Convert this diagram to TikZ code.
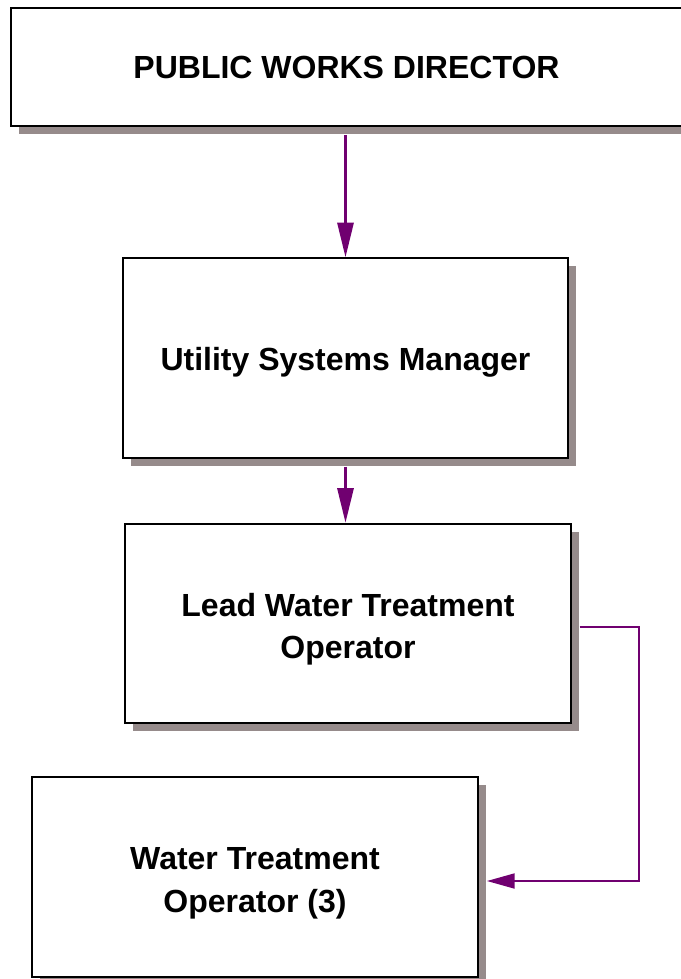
\documentclass[tikz,border=0pt]{standalone}
\usepackage{fontspec}
\setmainfont{Liberation Sans}
\usetikzlibrary{arrows.meta,shadows}
\definecolor{linkpurple}{RGB}{112,0,112}
\definecolor{shadowgray}{RGB}{150,139,139}
\tikzset{
  orgbox/.style={draw=black, line width=1.5pt, fill=white, align=center,
    font=\bfseries\fontsize{24pt}{32pt}\selectfont,
    minimum width=334pt, minimum height=149.5pt, inner sep=0pt,
    text height=58pt,
    drop shadow={shadow xshift=6pt, shadow yshift=-6pt, fill=shadowgray, opacity=1}},
  conn/.style={draw=linkpurple, line width=2.2pt, shorten <=6pt,
    -{Triangle[length=26pt, width=12pt]}},
}
\begin{document}
\begin{tikzpicture}[x=0.75pt, y=-0.75pt]
  \useasboundingbox (0,0) rectangle (681,979);
  \clip (0,0) rectangle (681,979);
  % boxes
  \node[orgbox, minimum width=503.25pt, minimum height=88.5pt, text height=17.5pt]
    (pwd) at (346.5,67) {PUBLIC WORKS DIRECTOR};
  \node[orgbox, text height=23.5pt] (usm) at (345.5,358) {Utility Systems Manager};
  \node[orgbox] (lwto) at (348,623.5) {Lead Water Treatment\\Operator};
  \node[orgbox] (wto) at (255,877) {Water Treatment\\Operator (3)};
  % reporting lines
  \draw[conn] (usm.north |- pwd.south) -- (usm.north);
  \draw[conn] (usm.south) -- (usm.south |- lwto.north);
  \coordinate (bend) at (639,627);
  \draw[conn, shorten >=6pt, -{Triangle[length=21pt, width=11pt]}]
    (lwto.east |- bend) -- (bend) |- ([yshift=-3pt]wto.east);
\end{tikzpicture}
\end{document}
